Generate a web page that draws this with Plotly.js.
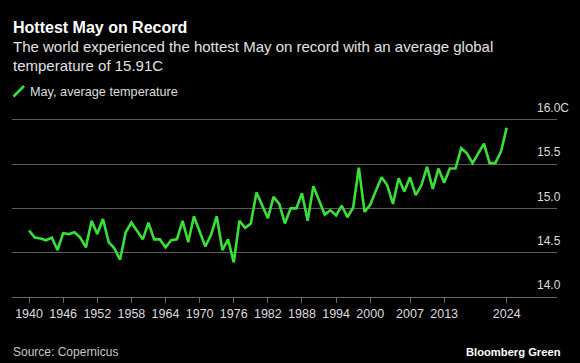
<!DOCTYPE html>
<html><head><meta charset="utf-8">
<script src="https://cdn.plot.ly/plotly-3.0.1.min.js"></script>
<style>html,body{margin:0;padding:0;background:#000;}#chart{width:580px;height:363px;}</style>
</head><body><div id="chart"></div>
<script>
const years = [1940,1941,1942,1943,1944,1945,1946,1947,1948,1949,
  1950,1951,1952,1953,1954,1955,1956,1957,1958,1959,
  1960,1961,1962,1963,1964,1965,1966,1967,1968,1969,
  1970,1971,1972,1973,1974,1975,1976,1977,1978,1979,
  1980,1981,1982,1983,1984,1985,1986,1987,1988,1989,
  1990,1991,1992,1993,1994,1995,1996,1997,1998,1999,
  2000,2001,2002,2003,2004,2005,2006,2007,2008,2009,
  2010,2011,2012,2013,2014,2015,2016,2017,2018,2019,
  2020,2021,2022,2023,2024];
const temps = [14.75,14.67,14.66,14.64,14.67,14.53,14.72,14.71,14.73,14.67,
  14.56,14.86,14.71,14.88,14.62,14.55,14.42,14.73,14.84,14.75,
  14.65,14.84,14.65,14.65,14.56,14.64,14.65,14.86,14.62,14.91,
  14.74,14.57,14.70,14.91,14.53,14.65,14.39,14.86,14.78,14.83,
  15.18,15.03,14.89,15.13,15.05,14.83,15.00,15.00,15.17,14.86,
  15.25,15.09,14.93,14.98,14.92,15.03,14.90,15.01,15.46,14.96,
  15.04,15.20,15.35,15.26,15.05,15.34,15.19,15.35,15.15,15.26,
  15.47,15.22,15.45,15.29,15.45,15.45,15.68,15.62,15.51,15.62,
  15.73,15.51,15.51,15.64,15.91];
const xTickVals = [1940,1946,1952,1958,1964,1970,1976,1982,1988,1994,2000,2007,2013,2024];
const yTickVals = [14.0,14.5,15.0,15.5,16.0];
const yTickText = ['14.0','14.5','15.0','15.5','16.0C'];
const seriesName = 'May, average temperature';
const titleText = 'Hottest May on Record';
const subtitle1 = 'The world experienced the hottest May on record with an average global';
const subtitle2 = 'temperature of 15.91C';
const sourceText = 'Source: Copernicus';
const brandText = 'Bloomberg Green';

const W = 580, H = 363;
const M = {l: 12, r: 23, t: 102, b: 66};
const PW = W - M.l - M.r, PH = H - M.t - M.b;
const px = x => (x - M.l) / PW;
const py = y => (H - M.b - y) / PH;
const FONT = '"Liberation Sans", Arial, Helvetica, sans-serif';
const GREEN = '#38e038';

const trace = {
  x: years, y: temps, type: 'scatter', mode: 'lines', name: seriesName,
  line: {color: GREEN, width: 2.6}, hoverinfo: 'skip', showlegend: false
};

const layout = {
  width: W, height: H,
  margin: M,
  paper_bgcolor: '#000', plot_bgcolor: '#000',
  font: {family: FONT, color: '#dcdcdc', size: 12},
  showlegend: false,
  title: {
    text: '<b>' + titleText + '</b>',
    xref: 'container', yref: 'container',
    x: 13 / W, xanchor: 'left',
    y: 1 - 27.5 / H, yanchor: 'middle',
    font: {family: FONT, size: 16, color: '#ffffff'}
  },
  xaxis: {
    range: [1937, 2032.85], autorange: false,
    tickvals: xTickVals, ticktext: xTickVals.map(String),
    showline: true, linecolor: '#6a6a6a', linewidth: 1,
    ticks: 'outside', ticklen: 5, tickcolor: '#6a6a6a', tickwidth: 1,
    ticklabelstandoff: 3.5,
    showgrid: false, zeroline: false,
    tickfont: {family: FONT, size: 12.5, color: '#dcdcdc'}
  },
  yaxis: {
    range: [14, 16.2], autorange: false, side: 'right',
    tickvals: yTickVals, ticktext: yTickText,
    showgrid: true, gridcolor: '#5c5c5c', gridwidth: 1,
    zeroline: false, showline: false, ticks: '',
    ticklabelposition: 'outside', ticklabelstandoff: -21,
    ticklabelshift: -12,
    tickfont: {family: FONT, size: 12, color: '#dcdcdc'}
  },
  shapes: [
    {type: 'line', xref: 'paper', yref: 'paper',
     x0: px(13.5), y0: py(96.5), x1: px(24), y1: py(86),
     line: {color: GREEN, width: 2.6}}
  ],
  annotations: [
    {text: subtitle1, xref: 'paper', yref: 'paper', x: px(10.5), y: py(46.7),
     xanchor: 'left', yanchor: 'middle', showarrow: false,
     font: {family: FONT, size: 15, color: '#e2e2e2'}},
    {text: subtitle2, xref: 'paper', yref: 'paper', x: px(10.5), y: py(65),
     xanchor: 'left', yanchor: 'middle', showarrow: false,
     font: {family: FONT, size: 15, color: '#e2e2e2'}},
    {text: seriesName, xref: 'paper', yref: 'paper', x: px(28), y: py(91.7),
     xanchor: 'left', yanchor: 'middle', showarrow: false,
     font: {family: FONT, size: 12.7, color: '#dcdcdc'}},
    {text: sourceText, xref: 'paper', yref: 'paper', x: px(11), y: py(352),
     xanchor: 'left', yanchor: 'middle', showarrow: false,
     font: {family: FONT, size: 12, color: '#c8c8c8'}},
    {text: '<b>' + brandText + '</b>', xref: 'paper', yref: 'paper', x: px(562.5), y: py(352),
     xanchor: 'right', yanchor: 'middle', showarrow: false,
     font: {family: FONT, size: 11.2, color: '#ffffff'}}
  ]
};

Plotly.newPlot('chart', [trace], layout, {displayModeBar: false, staticPlot: true});
</script></body></html>
